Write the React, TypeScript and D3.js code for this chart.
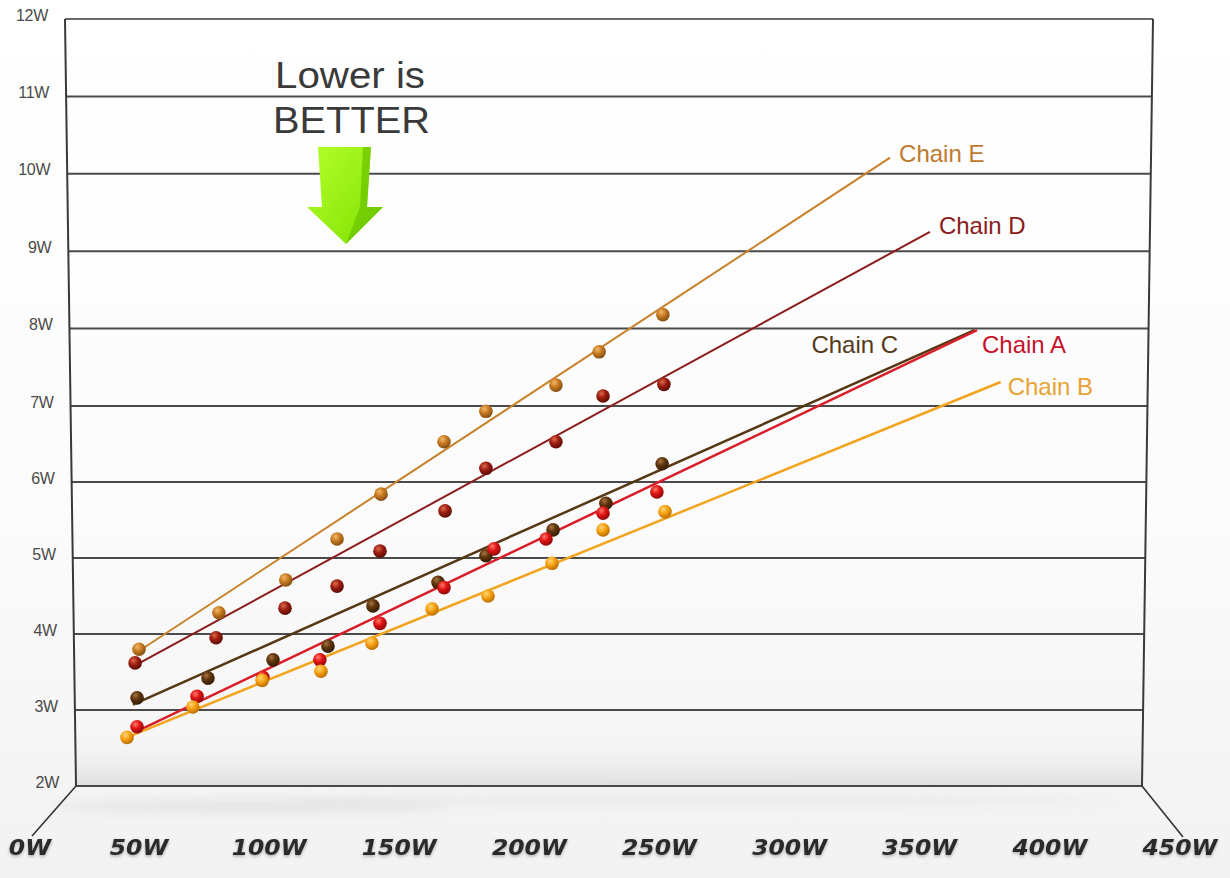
import React from "react";
import * as d3 from "d3";

// ---------- data ----------
const yTicks = [2, 3, 4, 5, 6, 7, 8, 9, 10, 11, 12];
const xTicks = [0, 50, 100, 150, 200, 250, 300, 350, 400, 450];

const chainNames = ["Chain E", "Chain D", "Chain C", "Chain A", "Chain B"];

const chainEPower = [50.0, 80.7, 106.4, 126.1, 143.0, 167.2, 183.3, 210.2, 226.8, 251.3];
const chainELoss = [3.8, 4.28, 4.71, 5.25, 5.84, 6.53, 6.93, 7.27, 7.7, 8.18];

const chainDPower = [48.2, 79.6, 106.1, 126.1, 142.6, 167.6, 183.3, 210.2, 228.3, 251.7];
const chainDLoss = [3.62, 3.95, 4.34, 4.63, 5.09, 5.62, 6.18, 6.53, 7.13, 7.28];

const chainCPower = [49.1, 76.5, 101.5, 122.6, 139.9, 164.9, 183.3, 209.1, 229.4, 251.0];
const chainCLoss = [3.16, 3.42, 3.66, 3.84, 4.37, 4.68, 5.03, 5.37, 5.72, 6.24];

const chainAPower = [49.1, 72.3, 97.6, 119.5, 142.6, 167.2, 186.4, 206.4, 228.3, 249.0];
const chainALoss = [2.78, 3.18, 3.43, 3.66, 4.14, 4.61, 5.12, 5.25, 5.59, 5.87];

const chainBPower = [44.5, 70.7, 97.3, 119.9, 139.5, 162.6, 184.1, 208.7, 228.3, 252.1];
const chainBLoss = [2.64, 3.04, 3.39, 3.51, 3.88, 4.33, 4.5, 4.93, 5.37, 5.61];

// trend line endpoints [power, loss]
const trendE = [[49.1, 3.76], [338.6, 10.21]];
const trendD = [[47.2, 3.57], [353.9, 9.25]];
const trendC = [[47.2, 3.07], [371.0, 7.98]];
const trendA = [[48.2, 2.71], [372.0, 7.98]];
const trendB = [[44.5, 2.64], [381.1, 7.31]];

// ---------- styles / layout ----------
const lineColors = ["#c8822a", "#8a1c1c", "#573712", "#d81e28", "#f2a41e"];
const labelColors = ["#c07a2e", "#8a1c1c", "#55391a", "#c8122a", "#e8a232"];
const dotBase = ["#c77a22", "#9c1e12", "#5e340c", "#e01414", "#f7a313"];
const dotLight = ["#f4b868", "#dc6a48", "#a87440", "#ff7a68", "#ffd57a"];
const dotDark = ["#7e4a0e", "#560a04", "#321a02", "#8a0606", "#b86a00"];
const lineWidths = [2, 2, 2.5, 2.5, 2.5];
const labelOffsets = [[9, 4], [9, 2], [-163, 23], [5, 23], [7, 13]];

const W = 1230;
const H = 878;

export default function App() {
  const x = d3.scaleLinear().domain([0, 50, 450]).range([30, 139, 1180]);
  const y = d3.scaleLinear().domain([2, 7, 12]).range([786, 406, 19]);

  const yTop = y(12);
  const yBot = y(2);
  const wallL = d3.scaleLinear().domain([yTop, yBot]).range([65, 76]);
  const wallR = d3.scaleLinear().domain([yTop, yBot]).range([1153, 1142]);

  const series = [
    { power: chainEPower, loss: chainELoss, trend: trendE },
    { power: chainDPower, loss: chainDLoss, trend: trendD },
    { power: chainCPower, loss: chainCLoss, trend: trendC },
    { power: chainAPower, loss: chainALoss, trend: trendA },
    { power: chainBPower, loss: chainBLoss, trend: trendB },
  ].map((s, i) => ({ ...s, name: chainNames[i] }));

  const line = d3
    .line<number[]>()
    .x((d) => x(d[0]))
    .y((d) => y(d[1]));

  const font = "'Liberation Sans', Arial, sans-serif";

  return (
    <svg
      width={W}
      height={H}
      style={{ position: "absolute", left: 0, top: 0, background: "#fff" }}
    >
      <defs>
        <linearGradient id="bg" x1="0" y1="0" x2="0" y2="1">
          <stop offset="0" stopColor="#ffffff" />
          <stop offset="0.6" stopColor="#fbfbfb" />
          <stop offset="1" stopColor="#f2f2f2" />
        </linearGradient>
        <linearGradient id="floorShade" x1="0" y1="0" x2="0" y2="1">
          <stop offset="0" stopColor="#ffffff" stopOpacity="0" />
          <stop offset="0.7" stopColor="#e8e8e8" stopOpacity="0.55" />
          <stop offset="1" stopColor="#dadada" stopOpacity="0.85" />
        </linearGradient>
        <filter id="blur8" x="-50%" y="-200%" width="200%" height="500%">
          <feGaussianBlur stdDeviation="6" />
        </filter>
        <filter id="txtShadow" x="-20%" y="-40%" width="140%" height="200%">
          <feDropShadow dx="0" dy="1.5" stdDeviation="1.4" floodColor="#000" floodOpacity="0.3" />
        </filter>
        <linearGradient id="arrowFace" x1="0" y1="0" x2="1" y2="1">
          <stop offset="0" stopColor="#b4ff2a" />
          <stop offset="1" stopColor="#7fe000" />
        </linearGradient>
        {series.map((s, i) => (
          <radialGradient key={i} id={`dot${i}`} cx="0.38" cy="0.32" r="0.72">
            <stop offset="0" stopColor={dotLight[i]} />
            <stop offset="0.45" stopColor={dotBase[i]} />
            <stop offset="1" stopColor={dotDark[i]} />
          </radialGradient>
        ))}
      </defs>

      <rect x={0} y={0} width={W} height={H} fill="url(#bg)" />
      <rect x={wallL(yBot)} y={yBot - 70} width={wallR(yBot) - wallL(yBot)} height={70} fill="url(#floorShade)" />
      <ellipse cx={250} cy={806} rx={200} ry={6} fill="#c4c4c4" opacity={0.35} filter="url(#blur8)" />
      <ellipse cx={700} cy={800} rx={420} ry={6} fill="#d6d6d6" opacity={0.3} filter="url(#blur8)" />

      {/* gridlines */}
      {yTicks.map((t) => (
        <line
          key={t}
          x1={wallL(y(t))}
          x2={wallR(y(t))}
          y1={y(t)}
          y2={y(t)}
          stroke={t === 12 ? "#6a6a6a" : "#4a4a4a"}
          strokeWidth={2}
        />
      ))}
      {/* walls */}
      <line x1={wallL(yTop)} y1={yTop} x2={wallL(yBot)} y2={yBot} stroke="#3a3a3a" strokeWidth={2} />
      <line x1={wallR(yTop)} y1={yTop} x2={wallR(yBot)} y2={yBot} stroke="#3a3a3a" strokeWidth={2} />
      {/* floor edges */}
      <line x1={wallL(yBot)} y1={yBot} x2={32} y2={836} stroke="#333" strokeWidth={1.6} />
      <line x1={wallR(yBot)} y1={yBot} x2={1183} y2={837} stroke="#333" strokeWidth={1.6} />

      {/* y labels */}
      {yTicks.map((t) => (
        <text
          key={t}
          x={wallL(y(t)) - 17}
          y={y(t) + 1.5}
          textAnchor="end"
          fontFamily={font}
          fontSize={16}
          fill="#4a4a4a"
          style={{ letterSpacing: "-0.3px" }}
        >
          {t}W
        </text>
      ))}

      {/* x labels */}
      {xTicks.map((t) => (
        <text
          key={t}
          transform={`translate(${x(t)},855) scale(1.12,1)`}
          textAnchor="middle"
          fontFamily="'DejaVu Sans', Verdana, sans-serif"
          fontWeight="bold"
          fontStyle="italic"
          fontSize={21}
          fill="#2c2c2c"
          filter="url(#txtShadow)"
        >
          {t}W
        </text>
      ))}

      {/* Lower is BETTER */}
      <text
        x={275}
        y={88}
        fontFamily={font}
        fontSize={36}
        fill="#3a3a3a"
        textLength={150}
        lengthAdjust="spacingAndGlyphs"
      >
        Lower is
      </text>
      <text
        x={273}
        y={133}
        fontFamily={font}
        fontSize={37}
        fill="#3a3a3a"
        textLength={157}
        lengthAdjust="spacingAndGlyphs"
      >
        BETTER
      </text>
      <g>
        <polygon
          points="318,147 371,147 367,207 383,207 346,244 307,207 322,207"
          fill="url(#arrowFace)"
        />
        <polygon points="363,147 371,147 367,207 383,207 346,244 360,207" fill="#6cc400" opacity={0.75} />
      </g>

      {/* trend lines */}
      {series.map((s, i) => (
        <path
          key={s.name}
          d={line(s.trend) || ""}
          fill="none"
          stroke={lineColors[i]}
          strokeWidth={lineWidths[i]}
        />
      ))}

      {/* dots */}
      {series.map((s, i) => (
        <g key={s.name}>
          {s.power.map((p, j) => (
            <circle key={j} cx={x(p)} cy={y(s.loss[j])} r={6.8} fill={`url(#dot${i})`} />
          ))}
        </g>
      ))}

      {/* labels */}
      {series.map((s, i) => {
        const end = s.trend[s.trend.length - 1];
        return (
          <text
            key={s.name}
            x={x(end[0]) + labelOffsets[i][0]}
            y={y(end[1]) + labelOffsets[i][1]}
            fontFamily={font}
            fontSize={24}
            fill={labelColors[i]}
          >
            {s.name}
          </text>
        );
      })}
    </svg>
  );
}
